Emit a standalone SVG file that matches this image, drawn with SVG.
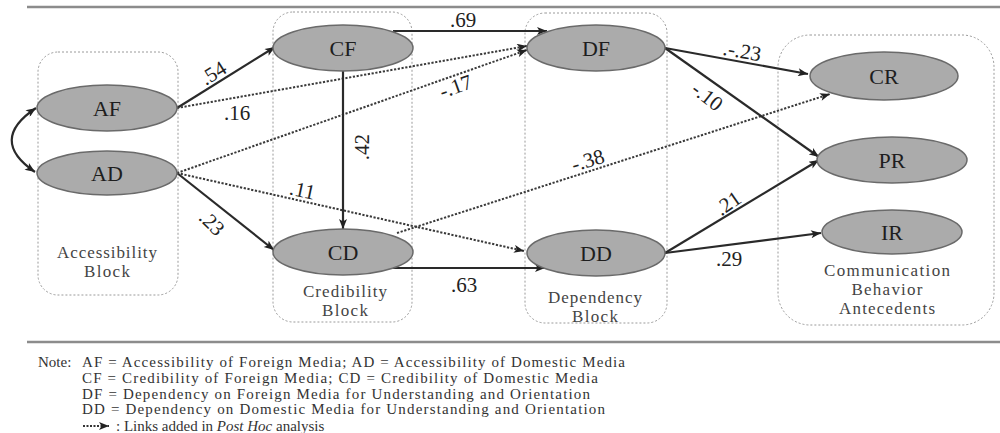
<svg xmlns="http://www.w3.org/2000/svg" width="1000" height="433" viewBox="0 0 1000 433" font-family="'Liberation Serif', 'DejaVu Serif', serif">
<style>
text{font-family:'Liberation Serif','DejaVu Serif',serif;fill:#222}
.node ellipse{fill:#ababab;stroke:#6a6a6a;stroke-width:1.5}
.node text{font-size:22px;text-anchor:middle;fill:#1e1e1e}
.block{fill:none;stroke:#9a9a9a;stroke-width:1;stroke-dasharray:2 2}
.blabel{font-size:17px;text-anchor:middle;fill:#444}
.solid{fill:none;stroke:#2a2a2a;stroke-width:2.2;marker-end:url(#ah)}
.dot{fill:none;stroke:#3a3a3a;stroke-width:2;stroke-dasharray:2.2 1.6;marker-end:url(#ah)}
.lbl{font-size:21px;text-anchor:middle}
.note{font-size:15px;fill:#333}
.rule{stroke:#8c8c8c;stroke-width:2.5}
</style>
<defs>
<marker id="ah" viewBox="0 0 10 8" refX="10" refY="4" markerWidth="11" markerHeight="8" markerUnits="userSpaceOnUse" orient="auto-start-reverse">
<path d="M0,0 L10,4 L0,8 L2.5,4 Z" fill="#222"/>
</marker>
</defs>
<line class="rule" x1="27" y1="7" x2="1000" y2="7"/>
<line class="rule" x1="27" y1="342" x2="1000" y2="342"/>

<g id="blocks" font-family="'Liberation Serif', serif">
<rect class="block" x="38" y="52" width="140" height="243" rx="20"/>
<rect class="block" x="273" y="12" width="139" height="310" rx="20"/>
<rect class="block" x="525" y="13" width="142" height="310" rx="20"/>
<rect class="block" x="778" y="35" width="216" height="290" rx="32"/>
<text class="blabel" x="107" y="258" textLength="100">Accessibility</text>
<text class="blabel" x="107" y="277" textLength="46">Block</text>
<text class="blabel" x="345" y="297" textLength="84">Credibility</text>
<text class="blabel" x="345" y="316" textLength="46">Block</text>
<text class="blabel" x="595" y="303" textLength="94">Dependency</text>
<text class="blabel" x="595" y="322" textLength="46">Block</text>
<text class="blabel" x="887" y="276" textLength="126">Communication</text>
<text class="blabel" x="887" y="295" textLength="71">Behavior</text>
<text class="blabel" x="887" y="314" textLength="96">Antecedents</text>
</g>

<g id="connectors">
<path class="solid" d="M177,108 L275,47"/>
<path class="dot" d="M177,108 L527,46"/>
<path class="dot" d="M177,173 L527,50"/>
<path class="solid" d="M177,173 L274,250"/>
<path class="dot" d="M177,173 L524,251"/>
<path class="solid" d="M343,71 L343,229"/>
<path class="solid" d="M393,31 L547,31"/>
<path class="solid" d="M393,268 L545,268"/>
<path class="dot" d="M397,233 L830,94"/>
<path class="solid" d="M665,48 L808,74"/>
<path class="solid" d="M665,48 L819,157"/>
<path class="solid" d="M665,253 L819,160"/>
<path class="solid" d="M665,253 L821,233"/>
<path class="solid" d="M36,108 Q-12,140 35,172" marker-start="url(#ah)"/>
</g>

<g id="labels" font-family="'Liberation Serif', serif">
<text class="lbl" transform="translate(217,79) rotate(-32)">.54</text>
<text class="lbl" transform="translate(237,120)">.16</text>
<text class="lbl" transform="translate(458,93) rotate(-20)">-.17</text>
<text class="lbl" transform="translate(301,197) rotate(12)">.11</text>
<text class="lbl" transform="translate(207,228) rotate(45)">.23</text>
<text class="lbl" transform="translate(369,147) rotate(-90)">.42</text>
<text class="lbl" transform="translate(463,27)">.69</text>
<text class="lbl" transform="translate(464,292)">.63</text>
<text class="lbl" transform="translate(590,167) rotate(-17)">-.38</text>
<text class="lbl" transform="translate(741,58) rotate(10)">.-.23</text>
<text class="lbl" transform="translate(703,102) rotate(38)">-.10</text>
<text class="lbl" transform="translate(732,209) rotate(-35)">.21</text>
<text class="lbl" transform="translate(729,266)">.29</text>
</g>

<g id="AF" class="node"><ellipse cx="107" cy="108" rx="70" ry="23"/><text x="107" y="116" font-family="'Liberation Serif', serif">AF</text></g>
<g id="AD" class="node"><ellipse cx="107" cy="173" rx="70" ry="22"/><text x="107" y="181" font-family="'Liberation Serif', serif">AD</text></g>
<g id="CF" class="node"><ellipse cx="343" cy="48" rx="70" ry="23"/><text x="343" y="56" font-family="'Liberation Serif', serif">CF</text></g>
<g id="CD" class="node"><ellipse cx="343" cy="252" rx="70" ry="23"/><text x="343" y="260" font-family="'Liberation Serif', serif">CD</text></g>
<g id="DF" class="node"><ellipse cx="596" cy="48" rx="69" ry="23"/><text x="596" y="56" font-family="'Liberation Serif', serif">DF</text></g>
<g id="DD" class="node"><ellipse cx="596" cy="253" rx="69" ry="23"/><text x="596" y="261" font-family="'Liberation Serif', serif">DD</text></g>
<g id="CR" class="node"><ellipse cx="884" cy="76" rx="74" ry="24"/><text x="884" y="84" font-family="'Liberation Serif', serif">CR</text></g>
<g id="PR" class="node"><ellipse cx="892" cy="160" rx="75" ry="23"/><text x="892" y="168" font-family="'Liberation Serif', serif">PR</text></g>
<g id="IR" class="node"><ellipse cx="892" cy="232" rx="70" ry="22"/><text x="892" y="240" font-family="'Liberation Serif', serif">IR</text></g>

<g id="note" font-family="'Liberation Serif', serif">
<text class="note" x="38" y="367">Note:</text>
<text class="note" x="82" y="367" textLength="543">AF = Accessibility  of Foreign Media; AD = Accessibility  of Domestic Media</text>
<text class="note" x="82" y="383" textLength="516">CF = Credibility  of Foreign Media; CD = Credibility  of Domestic Media</text>
<text class="note" x="82" y="399" textLength="508">DF = Dependency on Foreign Media for Understanding and Orientation</text>
<text class="note" x="82" y="414" textLength="523">DD = Dependency on Domestic Media for Understanding and Orientation</text>
<path d="M83,426 L109,426" stroke="#333" stroke-width="2" stroke-dasharray="2 1.5" fill="none" marker-end="url(#ah)"/>
<text class="note" x="116" y="431">: Links added in <tspan font-style="italic">Post Hoc</tspan> analysis</text>
</g>
</svg>
